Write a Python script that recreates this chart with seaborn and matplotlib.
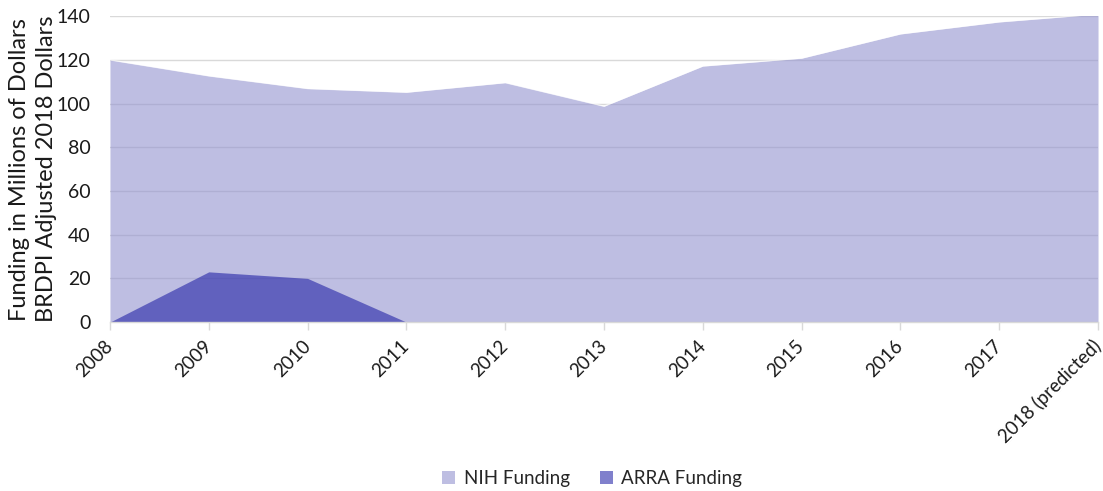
import pandas as pd
import matplotlib.pyplot as plt
import seaborn as sns
from matplotlib.patches import Patch


# -----------------------------
# DATA
# -----------------------------
years = ["2008", "2009", "2010", "2011", "2012", "2013",
         "2014", "2015", "2016", "2017", "2018 (predicted)"]
nih_funding = [120.0, 112.7, 106.9, 105.2, 109.6, 98.8,
               117.2, 120.8, 131.9, 137.4, 141.0]
arra_funding = [0.0, 23.0, 20.0, 0.0, 0.0, 0.0,
                0.0, 0.0, 0.0, 0.0, 0.0]

df = pd.DataFrame({
    "pos": range(len(years)),
    "year": years,
    "NIH Funding": nih_funding,
    "ARRA Funding": arra_funding,
})


# -----------------------------
# STYLE
# -----------------------------
sns.set_theme(style="white")
plt.rcParams["font.family"] = ["Lato", "DejaVu Sans"]

nih_color = "#9393CF"
arra_color = "#2424A6"
alpha = 0.6


# -----------------------------
# AREA CHART
# -----------------------------
fig = plt.figure(figsize=(11.03, 4.91), dpi=100)
ax = fig.add_axes([0.0997, 0.344, 0.8958, 0.623])

ax.fill_between(df["pos"], 0, df["NIH Funding"], color=nih_color,
                alpha=alpha, linewidth=0)
sns.lineplot(data=df, x="pos", y="NIH Funding", ax=ax,
             color="white", linewidth=1.0, alpha=0.6)

ax.fill_between(df["pos"], 0, df["ARRA Funding"], color=arra_color,
                alpha=alpha, linewidth=0)

ax.set_xlim(0, len(years) - 1)
ax.set_ylim(0, 140)
ax.set_yticks(range(0, 141, 20))
ax.set_axisbelow(True)
ax.grid(axis="y", color="#D9D9D9", linewidth=1.0)
ax.grid(axis="x", visible=False)

for side in ["top", "right", "left"]:
    ax.spines[side].set_visible(False)
ax.spines["bottom"].set_color("#D9D9D9")
ax.spines["bottom"].set_linewidth(1.0)

ax.set_xticks(df["pos"])
ax.set_xticklabels(years, rotation=45, ha="right", va="center",
                   rotation_mode="anchor", fontsize=13.5, color="#1a1a1a")
ax.tick_params(axis="x", bottom=True, length=6, width=1.0,
               color="#D9D9D9", pad=9)
ax.tick_params(axis="y", left=False, labelsize=14, labelcolor="#1a1a1a", pad=8)

ax.set_xlabel("")
ax.set_ylabel("Funding in Millions of Dollars\nBRDPI Adjusted 2018 Dollars",
              fontsize=17, color="#1a1a1a", labelpad=0, linespacing=1.3)


# -----------------------------
# LEGEND
# -----------------------------
handles = [
    Patch(facecolor=nih_color, alpha=alpha, edgecolor="none", label="NIH Funding"),
    Patch(facecolor="#8080CC", edgecolor="none", label="ARRA Funding"),
]
fig.legend(handles=handles, loc="center", bbox_to_anchor=(0.537, 0.026),
           ncol=2, frameon=False, fontsize=13.5, handlelength=0.7,
           handleheight=0.7, handletextpad=0.45, columnspacing=1.6)

fig.savefig("out.png", dpi=100)
